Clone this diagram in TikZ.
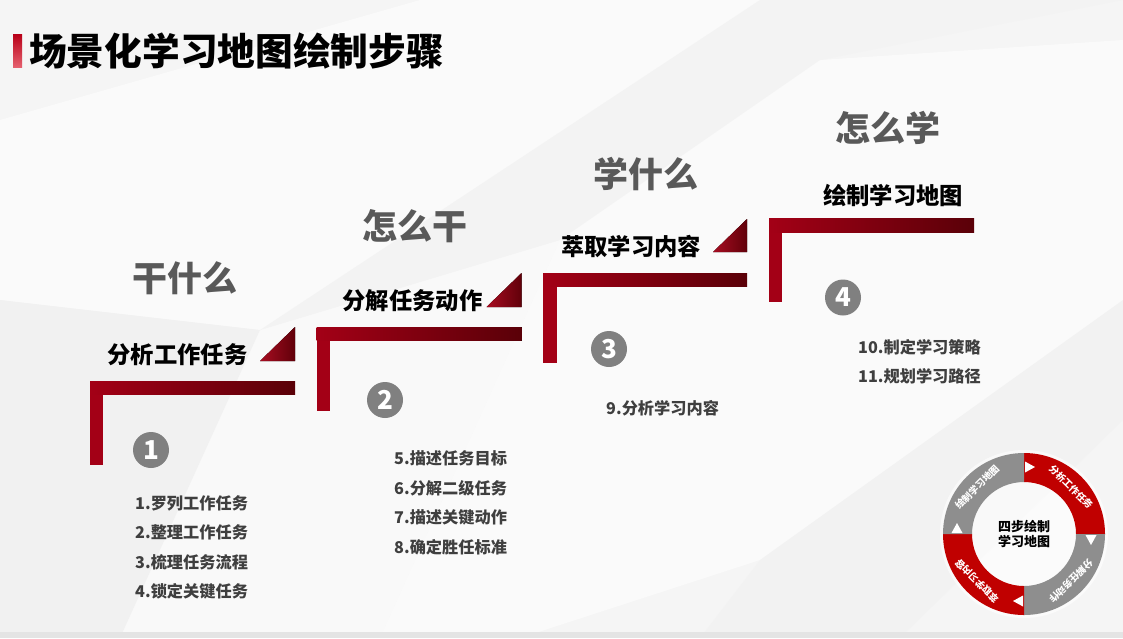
\documentclass[tikz,border=0pt]{standalone}
\usepackage{fontspec}
\setmainfont{Noto Sans CJK SC}
\usetikzlibrary{calc}
\definecolor{barred}{HTML}{A30016}
\definecolor{bardark}{HTML}{5A0008}
\definecolor{headgray}{HTML}{595959}
\definecolor{listgray}{HTML}{3F3F3F}
\definecolor{numgray}{HTML}{808080}
\definecolor{ringred}{HTML}{C00000}
\definecolor{ringgray}{HTML}{8E8E8E}
\definecolor{bgbase}{HTML}{F5F5F5}
\definecolor{bglight}{HTML}{FAFAFA}
\definecolor{bgdark}{HTML}{EFEFEF}
\definecolor{stripgray}{HTML}{E4E4E4}
\definecolor{titletop}{HTML}{B80018}
\definecolor{titlebot}{HTML}{E5606E}
\begin{document}
\begin{tikzpicture}[x=1pt,y=1pt,
  heading/.style={text=headgray,font=\fontsize{35}{40}\selectfont\bfseries,inner sep=0},
  subhead/.style={text=black,font=\fontsize{23.3}{26}\selectfont\bfseries,inner sep=0},
  listitem/.style={text=listgray,font=\fontsize{16.2}{19}\selectfont\bfseries,inner sep=0,anchor=west},
  numcircle/.style={circle,fill=numgray,minimum size=36pt,inner sep=0,text=white,font=\fontsize{26}{28}\selectfont\bfseries},
  ringtext/.style={text=white,font=\fontsize{9.5}{11}\selectfont\bfseries,inner sep=0},
  vbar/.style={fill=barred},
  hbar/.style={left color=barred,right color=bardark},
  tri/.style={left color=barred!95!white,right color=bardark!90!barred},
]
% background
\useasboundingbox (0,0) rectangle (1123,-638);
\fill[bgbase] (0,0) rectangle (1123,-638);
\fill[bglight] (0,-120) -- (420,0) -- (760,0) -- (260,-330) -- (0,-300) -- cycle;
\fill[bglight] (560,-240) -- (820,-60) -- (1123,-40) -- (1123,-300) -- (760,-560) -- (520,-638) -- (380,-638) -- cycle;
\fill[bgdark,opacity=0.6] (0,-300) -- (260,-330) -- (120,-638) -- (0,-638) -- cycle;
\fill[bgdark,opacity=0.4] (760,-560) -- (1123,-300) -- (1123,-420) -- (900,-638) -- (700,-638) -- cycle;
\fill[white,opacity=0.4] (260,-330) -- (560,-240) -- (380,-638) -- (120,-638) -- cycle;
\fill[bgdark,opacity=0.3] (760,0) -- (1123,0) -- (820,-60) -- (560,-240) -- (260,-330) -- cycle;
\fill[stripgray] (0,-632) rectangle (1123,-638);

% title
\shade[top color=titletop,bottom color=titlebot] (13,-34) rectangle (22,-67);
\node[anchor=west,inner sep=0,font=\fontsize{37.7}{42}\selectfont\bfseries] (title) at (29,-51) {场景化学习地图绘制步骤};

% step 1
\fill[vbar] (90,-381) rectangle (103,-465);
\fill[hbar] (90,-381) rectangle (295,-394.5);
\fill[tri] (260,-361) -- (295,-361) -- (295,-327) -- cycle;
% step 2
\fill[vbar] (316.5,-327) rectangle (329.5,-411);
\fill[hbar] (316.5,-327) rectangle (521.5,-340.5);
\fill[tri] (486.5,-307) -- (521.5,-307) -- (521.5,-273) -- cycle;
% step 3
\fill[vbar] (543,-273) rectangle (556.5,-363);
\fill[hbar] (543,-273) rectangle (747,-286.5);
\fill[tri] (713,-252) -- (747,-252) -- (747,-219) -- cycle;
% step 4
\fill[vbar] (769,-218.5) rectangle (782,-302);
\fill[hbar] (769,-218.5) rectangle (974,-232);

% headings
\node[heading] (h1) at (185,-278) {干什么};
\node[heading] (h2) at (415,-226) {怎么干};
\node[heading] (h3) at (645.5,-174) {学什么};
\node[heading] (h4) at (887.5,-127.5) {怎么学};

% sub headings
\node[subhead] (s1) at (177.5,-355) {分析工作任务};
\node[subhead] (s2) at (412.5,-301) {分解任务动作};
\node[subhead] (s3) at (631,-246.5) {萃取学习内容};
\node[subhead] (s4) at (893,-196) {绘制学习地图};

% number circles
\node[numcircle] (n1) at (151,-450) {1};
\node[numcircle] (n2) at (385,-400) {2};
\node[numcircle] (n3) at (609,-349) {3};
\node[numcircle] (n4) at (843,-297.5) {4};

% lists
\node[listitem] (l1) at (135,-503) {1.罗列工作任务};
\node[listitem] (l2) at (135,-532.5) {2.整理工作任务};
\node[listitem] (l3) at (135,-562) {3.梳理任务流程};
\node[listitem] (l4) at (135,-591.5) {4.锁定关键任务};
\node[listitem] (l5) at (394,-458) {5.描述任务目标};
\node[listitem] (l6) at (394,-488) {6.分解二级任务};
\node[listitem] (l7) at (394,-517) {7.描述关键动作};
\node[listitem] (l8) at (394,-547) {8.确定胜任标准};
\node[listitem] (l9) at (606,-408) {9.分析学习内容};
\node[listitem] (l10) at (858,-347) {10.制定学习策略};
\node[listitem] (l11) at (858,-376.5) {11.规划学习路径};

% ring diagram
\coordinate (ctr) at (1024,-534);
\fill[white,opacity=0.6] (ctr) circle[radius=84];
\fill[ringred] ($(ctr)+(90:81)$) arc[start angle=90,end angle=0,radius=81] -- ($(ctr)+(0:52)$) arc[start angle=0,end angle=90,radius=52] -- cycle;
\fill[ringgray] ($(ctr)+(0:81)$) arc[start angle=0,end angle=-90,radius=81] -- ($(ctr)+(-90:52)$) arc[start angle=-90,end angle=0,radius=52] -- cycle;
\fill[ringred] ($(ctr)+(-90:81)$) arc[start angle=-90,end angle=-180,radius=81] -- ($(ctr)+(180:52)$) arc[start angle=180,end angle=270,radius=52] -- cycle;
\fill[ringgray] ($(ctr)+(180:81)$) arc[start angle=180,end angle=90,radius=81] -- ($(ctr)+(90:52)$) arc[start angle=90,end angle=180,radius=52] -- cycle;
\foreach \a in {90,0,-90,180}{
  \fill[white,shift={(ctr)},rotate=\a-90] (1,61.5) -- (1,72.5) -- (11,67) -- cycle;
}
\node[ringtext,rotate=-45] (r1) at ($(ctr)+(45:66.5)$) {分析工作任务};
\node[ringtext,rotate=-135] (r2) at ($(ctr)+(-45:66.5)$) {分解任务动作};
\node[ringtext,rotate=135] (r3) at ($(ctr)+(-135:66.5)$) {萃取学习内容};
\node[ringtext,rotate=45] (r4) at ($(ctr)+(135:66.5)$) {绘制学习地图};
\node[align=center,inner sep=0,font=\fontsize{13}{15}\selectfont\bfseries] (ctext) at (ctr) {四步绘制\\学习地图};
\end{tikzpicture}
\end{document}
